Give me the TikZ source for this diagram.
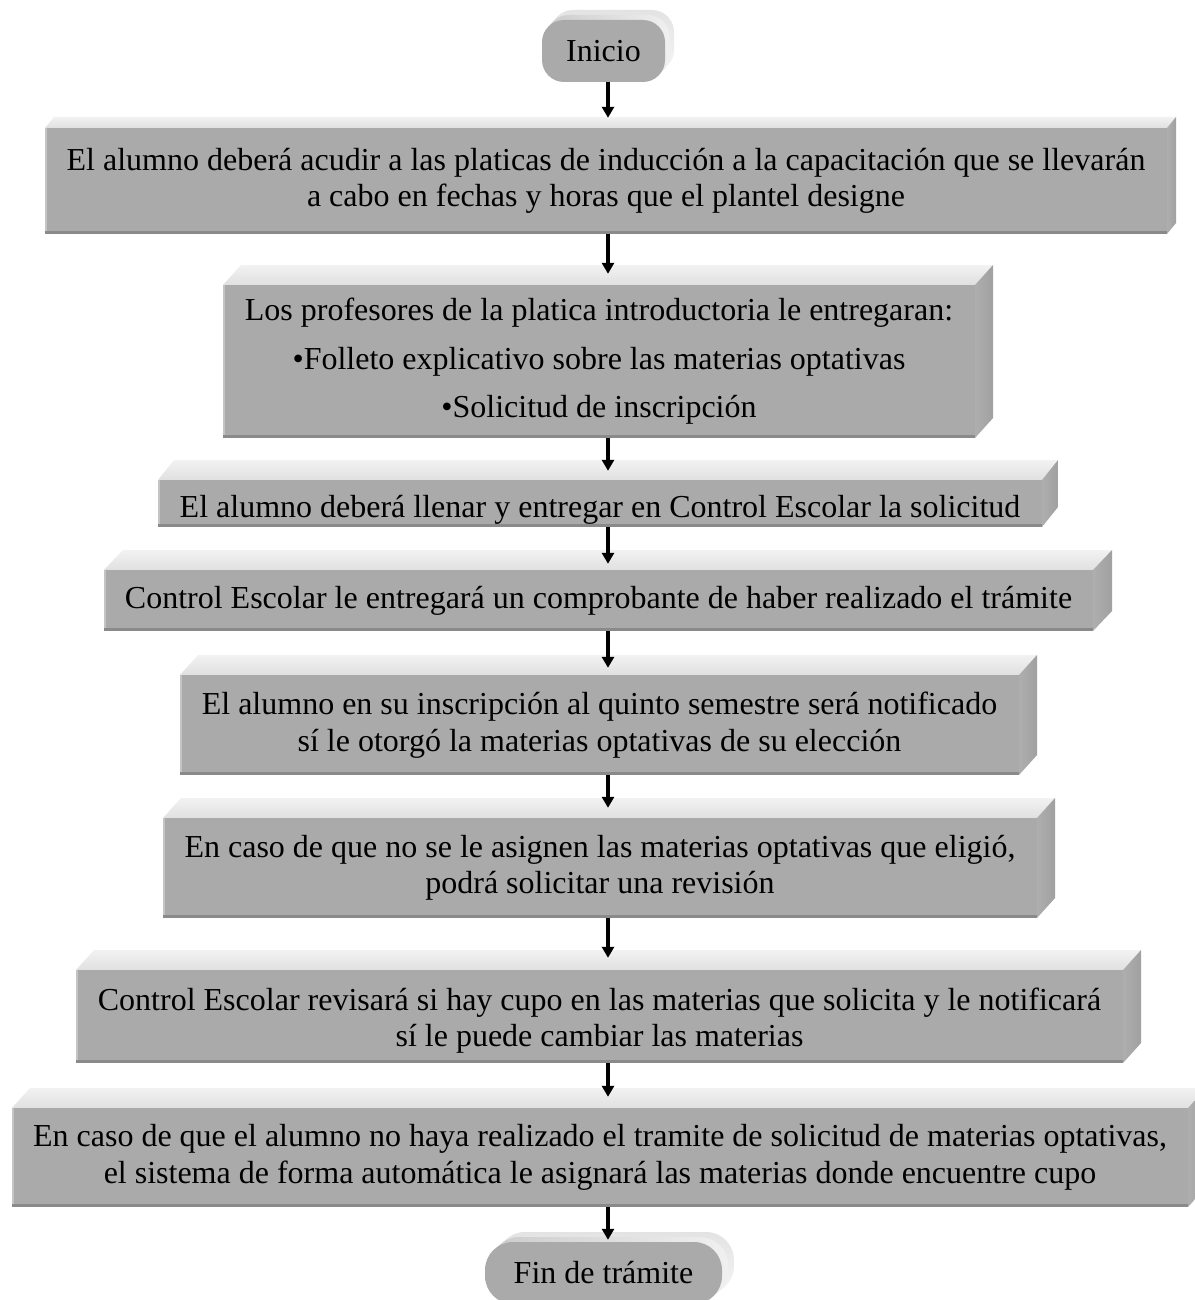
\documentclass[tikz,border=0pt]{standalone}
\usepackage{fontspec}
\setmainfont{Liberation Serif}
\usetikzlibrary{arrows.meta}

\definecolor{frontgray}{RGB}{170,170,170}
\definecolor{sidegray}{RGB}{160,160,160}
\definecolor{edgegray}{RGB}{138,138,138}
\definecolor{lightedge}{RGB}{196,196,196}
\definecolor{topnear}{RGB}{224,224,224}
\definecolor{topfar}{RGB}{242,242,242}

\tikzset{
  label text/.style={font=\fontsize{32}{36.5}\selectfont, align=center,
    inner sep=0pt, text=black},
  flowarrow/.style={line width=3.5pt, -{Triangle[length=11pt,width=12pt]}},
  frontface/.style={fill=frontgray},
  sideface/.style={left color=sidegray!85!white, right color=sidegray},
  topface/.style={top color=topfar, bottom color=topnear},
}

% vertical offset of the text inside a slab (pt, downwards)
\def\textdrop{0}

% #1 name, #2 x1, #3 y1, #4 x2, #5 y2 (front face), #6 dx, #7 dy, #8 text
\newcommand\slab[8]{%
  \shade[topface] (#2,#3) -- ({#2+#6},{#3-#7}) -- ({#4+#6},{#3-#7}) -- (#4,#3) -- cycle;
  \shade[sideface] (#4,#3) -- ({#4+#6},{#3-#7}) -- ({#4+#6},{#5-#7}) -- (#4,#5) -- cycle;
  \fill[frontface] (#2,#3) rectangle (#4,#5);
  \draw[edgegray, line width=3pt] (#2,{#5-1.5}) -- (#4,{#5-1.5});
  \draw[lightedge, line width=1.5pt] ({#2+0.75},#3) -- ({#2+0.75},{#5-3});
  \node[label text, minimum width={(#4-#2)*1pt}, minimum height={(#5-#3)*1pt}]
    (#1) at ({(#2+#4)/2},{(#3+#5)/2+\textdrop}) {#8};
}

% #1 name, #2 x1, #3 y1, #4 x2, #5 y2, #6 dx, #7 dy, #8 radius, #9 text
\newcommand\terminal[9]{%
  \shade[top color=gray!22, bottom color=gray!8, rounded corners=#8pt]
    ({#2+#6},{#3-#7}) rectangle ({#4+#6},{#5-#7});
  \shade[left color=gray!40, right color=gray!12, rounded corners=#8pt]
    ({#2+#6*0.5},{#3-#7*0.5}) rectangle ({#4+#6*0.5},{#5-#7*0.5});
  \fill[frontgray, rounded corners=#8pt] (#2,#3) rectangle (#4,#5);
  \node[label text, minimum width={(#4-#2)*1pt}, minimum height={(#5-#3)*1pt}]
    (#1) at ({(#2+#4)/2},{(#3+#5)/2}) {#9};
}

\begin{document}
\begin{tikzpicture}[x=1pt,y=-1pt]
\useasboundingbox (0,0) rectangle (1194,1300);
\fill[white] (0,0) rectangle (1194,1300);

\coordinate (axis) at (608,0);

\terminal{inicio}{542}{20}{665}{82}{9}{10}{22}{Inicio}

\slab{s1}{45}{128}{1167}{234}{9}{11}{El alumno deberá acudir a las platicas de inducción a la capacitación que se llevarán\\a cabo en fechas y horas que el plantel designe}

\slab{s2}{223}{285}{975}{438}{18}{20}{Los profesores de la platica introductoria le entregaran:\\[12pt]•Folleto explicativo sobre las materias optativas\\[12pt]•Solicitud de inscripción}

\def\textdrop{6}
\slab{s3}{158}{480}{1042}{527}{16}{20}{El alumno deberá llenar y entregar en Control Escolar la solicitud}
\def\textdrop{0}

\slab{s4}{104}{570}{1093}{631}{19}{20}{Control Escolar le entregará un comprobante de haber realizado el trámite}

\slab{s5}{180}{675}{1019}{775}{18}{20}{El alumno en su inscripción al quinto semestre será notificado\\sí le otorgó la materias optativas de su elección}

\slab{s6}{163}{818}{1037}{918}{18}{20}{En caso de que no se le asignen las materias optativas que eligió,\\podrá solicitar una revisión}

\def\textdrop{4}
\slab{s7}{76}{970}{1123}{1063}{18}{20}{Control Escolar revisará si hay cupo en las materias que solicita y le notificará\\sí le puede cambiar las materias}
\def\textdrop{0}

\slab{s8}{12}{1108}{1188}{1207}{18}{20}{En caso de que el alumno no haya realizado el tramite de solicitud de materias optativas,\\el sistema de forma automática le asignará las materias donde encuentre cupo}

\terminal{fin}{485}{1242}{722}{1304}{12}{10}{28}{Fin de trámite}

% connectors
\draw[flowarrow] (inicio.south -| axis) -- ([yshift=10pt]s1.north -| axis);
\draw[flowarrow] (s1.south -| axis) -- ([yshift=11pt]s2.north -| axis);
\draw[flowarrow] (s2.south -| axis) -- ([yshift=15pt]s3.north -| axis);
\draw[flowarrow] ([yshift=6pt]s3.south -| axis) -- ([yshift=6pt]s4.north -| axis);
\draw[flowarrow] (s4.south -| axis) -- ([yshift=7pt]s5.north -| axis);
\draw[flowarrow] (s5.south -| axis) -- ([yshift=10pt]s6.north -| axis);
\draw[flowarrow] (s6.south -| axis) -- ([yshift=16pt]s7.north -| axis);
\draw[flowarrow] ([yshift=4pt]s7.south -| axis) -- ([yshift=11pt]s8.north -| axis);
\draw[flowarrow] (s8.south -| axis) -- ([yshift=2pt]fin.north -| axis);
\end{tikzpicture}
\end{document}
